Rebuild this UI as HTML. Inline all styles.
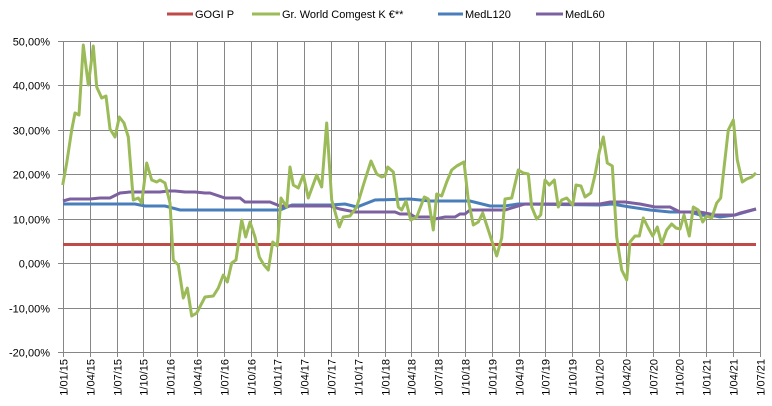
<!DOCTYPE html>
<html><head><meta charset="utf-8"><style>
html,body{margin:0;padding:0;background:#fff;}
svg{display:block;font-family:"Liberation Sans",sans-serif;}
</style></head><body>
<svg width="772" height="406" viewBox="0 0 772 406" xmlns="http://www.w3.org/2000/svg">
<rect width="772" height="406" fill="#fff"/>
<g stroke="#868686" stroke-width="1" fill="none" id="grid"></g>
<g font-size="11" fill="#000" text-anchor="end" id="ylab"></g>
<g font-size="11" fill="#000" text-anchor="end" id="xlab"></g>
<polyline fill="none" stroke="#be4b48" stroke-width="3" points="63,244.5 756,244.5"/>
<polyline id="blue" fill="none" stroke="#4a7ebb" stroke-width="3" points="63,204 135,204 145,206 165,206 180,210 280,210 292,205 330,205 345,204 357,207 375,200 410,199 430,201 470,201 490,206 505,206 518,204 600,205 612,204 630,207 650,210 670,212 690,212 700,215 715,216 720,217 735,215 756,209"/>
<polyline id="purple" fill="none" stroke="#7d60a0" stroke-width="3" points="63,201 70,199 90,199 100,198 110,198 120,193 130,192 160,192 168,191 175,191 185,192 195,192 205,193 210,193 225,198 240,198 245,202 270,202 280,206 330,206 340,209 355,212 395,212 400,214 410,214 415,217 430,217 435,219 445,217 455,217 460,214 465,214 470,210 505,210 515,207 525,204 550,204 600,204 610,202 625,202 640,204 655,207 670,207 680,212 700,212 705,213 715,215 735,215 740,213 756,209"/>
<polyline fill="none" stroke="#9bbb59" stroke-width="3" stroke-linejoin="round" points="62.7,185 66.7,163 71.7,130 75,113 79,115 83.3,45 88.3,85 93.3,46 96.7,87 101.7,98 106,96 110,129 115,137 119.3,117 124,123 128.3,137 133.3,200 138.3,198 141.7,203 146.7,163 151.7,180 156.7,182 160,180 165,183 170,203 173.3,260 178.3,265 183.3,298 187.3,288 191.7,316 196.7,313 205,297 213.3,296 218.3,288 223.3,275 227.3,282 231.7,263 236,260 241.7,220 245.7,237 250,222 255,237 259.3,257 264,265 268.3,270 272.7,242 277.3,246 281,198 286.7,207 290,167 293.3,185 298.3,188 303.3,175 308.3,198 316.7,175 321.7,187 326.7,123 331.7,200 339.3,227 343.3,217 350,216 356.7,207 364,183 371,161 376.7,174 381.7,177 385,176 387.7,167 393.3,172 398.3,207 401.7,210 406,201 410.7,220 416.7,217 424.3,197 428.3,199 433.3,230 436.7,194 441.7,196 446.7,182 451.7,170 456.7,166 464,162 468.3,200 473.3,225 478.3,222 482.7,213 488.3,230 496.7,256 501.7,238 505,199 511.7,198 518.3,170 523.3,173 528.3,174 531.7,207 536.7,219 540.7,215 545,180 549.3,185 554.3,180 558.3,207 561.7,200 566.7,198 572.7,205 576,185 581,186 585,197 590.7,193 595,175 599.3,152 603.3,137 607.3,163 612.3,166 616.7,237 621.7,270 626.7,280 630,242 635,236 639.3,236 643.3,218 648.3,228 652.7,236 657.3,227 661.7,244 666.7,230 671.7,224 676,228 680,229 684,215 689.3,236 693.3,207 698.3,210 702.7,222 706.7,216 711.7,218 716.7,203 720.7,198 724,168 728.3,130 733.3,120 737.3,160 742.3,182 746.7,179 751.7,177 756,173"/>
<g font-size="11" fill="#000">
<line x1="167" y1="14" x2="193" y2="14" stroke="#be4b48" stroke-width="3"/><text x="195" y="18">GOGI P</text>
<line x1="252" y1="14" x2="280" y2="14" stroke="#9bbb59" stroke-width="3"/><text x="282" y="18">Gr. World Comgest K €**</text>
<line x1="438" y1="14" x2="463" y2="14" stroke="#4a7ebb" stroke-width="3"/><text x="465" y="18">MedL120</text>
<line x1="536" y1="14" x2="563" y2="14" stroke="#7d60a0" stroke-width="3"/><text x="565" y="18">MedL60</text>
</g>
<script>
var ns="http://www.w3.org/2000/svg";
var g=document.getElementById('grid'),yl=document.getElementById('ylab'),xl=document.getElementById('xlab');
function el(p,n,a,t){var e=document.createElementNS(ns,n);for(var k in a)e.setAttribute(k,a[k]);if(t)e.textContent=t;p.appendChild(e);return e;}
var ylabs=["50,00%","40,00%","30,00%","20,00%","10,00%","0,00%","-10,00%","-20,00%"];
for(var i=0;i<8;i++){var y=41+i*44.43;y=Math.round(y)+0.5;
el(g,'line',{x1:58,y1:y,x2:760,y2:y});
el(yl,'text',{x:50,y:y+4},ylabs[i]);}
var ms=["01","04","07","10"];
for(var q=0;q<=26;q++){var x=Math.round(63+q*26.8)+0.5;
el(g,'line',{x1:x,y1:41,x2:x,y2:357});
var yr=15+Math.floor(q/4),m=ms[q%4];
el(xl,'text',{x:0,y:0,transform:'translate('+(x+4)+',359) rotate(-90)'},'1/'+m+'/'+yr);}
</script>
</svg>
</body></html>
